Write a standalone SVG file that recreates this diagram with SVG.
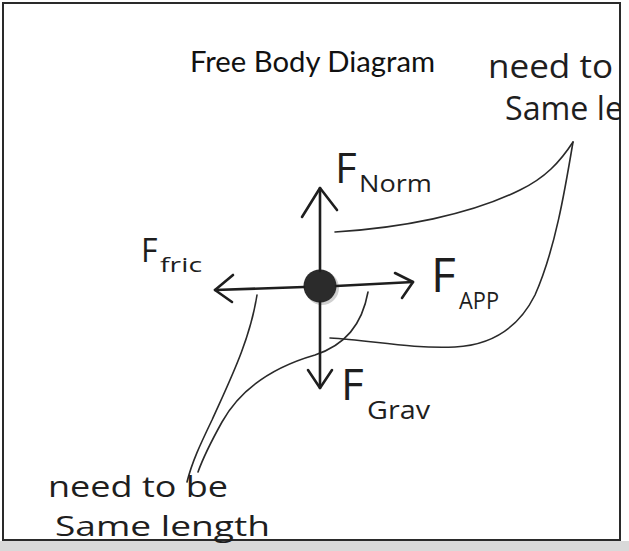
<svg xmlns="http://www.w3.org/2000/svg" width="629" height="551" viewBox="0 0 629 551">
<style>
.frame{fill:#fff;stroke:#2a2a2a;stroke-width:2}
.force{fill:none;stroke:#1e1e1e;stroke-width:2.6;stroke-linecap:round;stroke-linejoin:round}
.note{fill:none;stroke:#2a2a2a;stroke-width:1.6;stroke-linecap:round;stroke-linejoin:round}
.title{font-family:Lato,"Open Sans","Liberation Sans",sans-serif;fill:#111}
.hand{font-family:"Open Sans","Liberation Sans",sans-serif;fill:#1e1e1e}
</style>
<defs>
<clipPath id="frameClip"><rect x="3" y="3" width="617" height="537"/></clipPath>
</defs>
<rect x="0" y="0" width="629" height="551" fill="#fff"/>
<rect x="0" y="541" width="629" height="10" fill="#d9d9d9"/>
<rect class="frame" x="3" y="3" width="617" height="537"/>

<g id="title">
<text class="title" x="190" y="72" font-size="28" textLength="245" lengthAdjust="spacingAndGlyphs">Free Body Diagram</text>
</g>

<g id="connectors">
<path class="note" d="M335,232 C400,228 470,215 520,190 C545,178 560,162 573,142"/>
<path class="note" d="M573,142 C565,190 555,250 535,295 C520,325 495,345 455,347 C410,349 370,340 330,338"/>
<path class="note" d="M257,295 C250,340 230,380 212,420 C200,445 192,462 187,482"/>
<path class="note" d="M368,292 C362,325 345,345 315,355 C270,368 240,390 222,422 C212,440 203,458 198,472"/>
</g>

<g id="body">
<circle cx="322" cy="288" r="17" fill="#d0d0d0"/>
<circle cx="320" cy="286" r="16.5" fill="#2b2b2b"/>
</g>

<g id="force-norm">
<path class="force" d="M320,271 L320,188"/>
<path class="force" d="M302,217 L320,188 L337,210"/>
<text class="hand" x="335" y="183" font-size="42">F</text>
<text class="hand" x="359" y="192" font-size="23" textLength="73" lengthAdjust="spacingAndGlyphs">Norm</text>
</g>

<g id="force-grav">
<path class="force" d="M320,302 L320,388"/>
<path class="force" d="M308,370 L320,388 L332,370"/>
<text class="hand" x="341" y="400" font-size="44">F</text>
<text class="hand" x="367" y="419" font-size="26" textLength="63" lengthAdjust="spacingAndGlyphs">Grav</text>
</g>

<g id="force-fric">
<path class="force" d="M304,287 L215,290"/>
<path class="force" d="M233,275 L215,290 L232,302"/>
<text class="hand" x="141" y="262" font-size="32">F</text>
<text class="hand" x="160" y="272" font-size="20" textLength="42" lengthAdjust="spacingAndGlyphs">fric</text>
</g>

<g id="force-app">
<path class="force" d="M336,286 L413,282"/>
<path class="force" d="M395,273 L413,282 L402,298"/>
<text class="hand" x="431" y="292" font-size="48">F</text>
<text class="hand" x="459" y="309" font-size="23" textLength="40" lengthAdjust="spacingAndGlyphs">APP</text>
</g>

<g id="note-top" clip-path="url(#frameClip)">
<text class="hand" x="488" y="78" font-size="32" textLength="125" lengthAdjust="spacingAndGlyphs">need to</text>
<text class="hand" x="505" y="120" font-size="32" textLength="118" lengthAdjust="spacingAndGlyphs">Same le</text>
</g>

<g id="note-bottom">
<text class="hand" x="48" y="497" font-size="30" textLength="180" lengthAdjust="spacingAndGlyphs">need to be</text>
<text class="hand" x="55" y="536" font-size="27" textLength="215" lengthAdjust="spacingAndGlyphs">Same length</text>
</g>
</svg>
